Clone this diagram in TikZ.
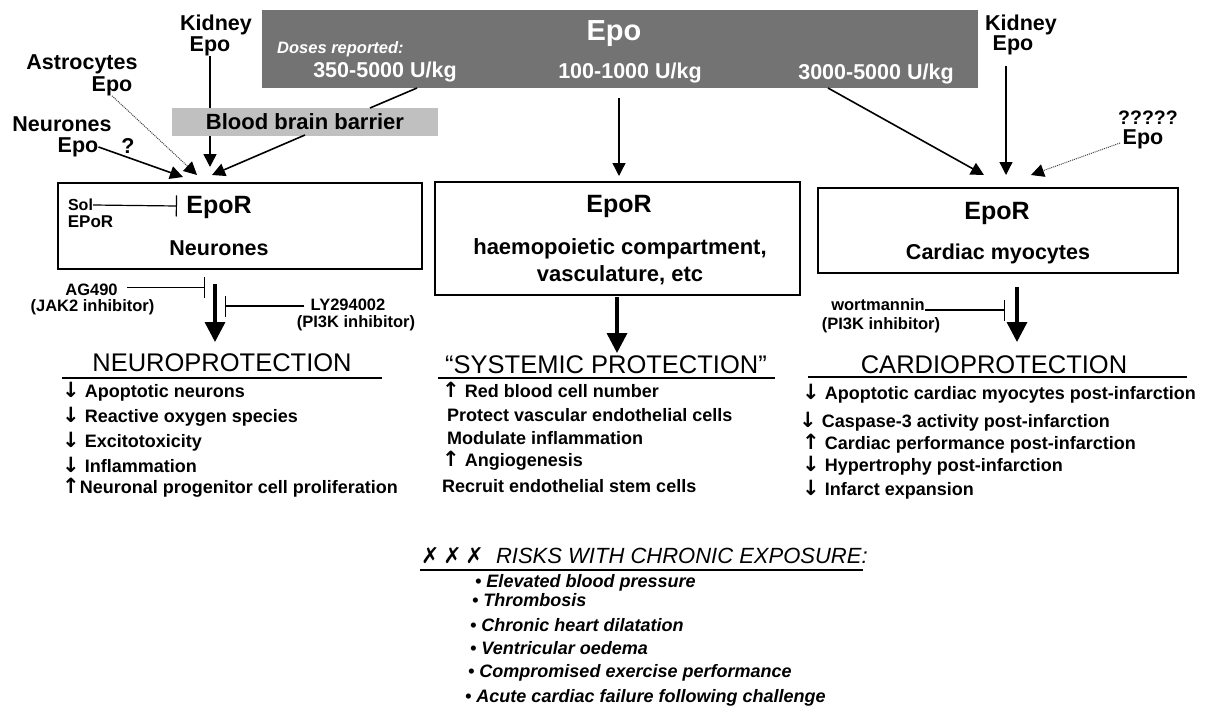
\documentclass[tikz,border=0pt]{standalone}
\usepackage{fontspec}
\setmainfont{Liberation Sans}
\newfontfamily\symfont{DejaVu Sans}
\usetikzlibrary{arrows.meta}

\definecolor{epogrey}{RGB}{115,115,115}
\definecolor{bbbgrey}{RGB}{192,192,192}
\newcommand{\fsz}[1]{\fontsize{#1}{#1}\selectfont}
\newcommand{\arrdn}{{\symfont\bfseries\fsz{21}↓}}
\newcommand{\arrup}{{\symfont\bfseries\fsz{21}↑}}
\newcommand{\cross}{{\symfont ✗}}

\tikzset{
  lbl/.style={font=\bfseries\fsz{21.5}, inner sep=0pt},
  small/.style={font=\bfseries\fsz{16.5}, inner sep=0pt},
  rbox/.style={draw, line width=1.4pt, inner sep=0pt},
  arr/.style={-{Triangle[length=13pt,width=13pt]}, line width=1.6pt},
  dotarr/.style={-{Triangle[length=13pt,width=13pt,color=black]}, line width=1pt, densely dotted, draw=black!75},
  bigarr/.style={-{Triangle[length=20pt,width=20pt]}, line width=3.5pt},
  inh/.style={-{Bar[width=21pt]}, line width=1.2pt},
  item/.style={font=\bfseries\fsz{18}, inner sep=0pt, anchor=west, text height=13pt, text depth=4pt},
  risk/.style={item, font=\bfseries\itshape\fsz{18}},
  head/.style={font=\fsz{25.5}, inner sep=0pt},
  uline/.style={line width=1.4pt}
}

\begin{document}
\begin{tikzpicture}[x=1pt,y=-1pt]
\useasboundingbox (0,0) rectangle (1205,707);

% top Epo box
\node[fill=epogrey, minimum width=716pt, minimum height=78pt, inner sep=0pt] (epobox) at (620,49) {};
\node[font=\bfseries\fsz{29}, text=white, inner sep=0pt] (epo) at (614,34) {Epo};
\node[font=\bfseries\itshape\fsz{16.5}, text=white, inner sep=0pt, anchor=west] (doses) at (277,49) {Doses reported:};
\node[lbl, text=white] (d350) at (385,72) {350-5000 U/kg};
\node[lbl, text=white] (d100) at (630,73) {100-1000 U/kg};
\node[lbl, text=white] (d3000) at (876,74) {3000-5000 U/kg};

% sources of Epo, brain side
\node[lbl] (kidL) at (216,25) {Kidney};
\node[lbl] (kidLepo) at (210,46) {Epo};
\node[lbl] (astro) at (82,64) {Astrocytes};
\node[lbl] (astroepo) at (112,86) {Epo};
\node[lbl] (neur) at (62,124) {Neurones};
\node[lbl] (neurepo) at (78,147) {Epo};
\node[lbl] (qm) at (128,146) {?};

\coordinate (tipA) at (183,177);
\coordinate (tipB) at (197,175);
\coordinate (tipC) at (210,167);
\coordinate (tipD) at (212,175);
\coordinate (d350foot) at (417,88);
\coordinate (bbbtop) at (370,108);
\coordinate (bbbfoot) at (305,135);

\draw[arr] (kidLepo) -- (tipC);
\node[fill=bbbgrey, minimum width=266pt, minimum height=28pt, inner sep=0pt, font=\bfseries\fsz{22}] (bbb) at (305,121.5) {Blood brain barrier};
\draw[line width=1.6pt] (d350foot) -- (bbbtop);
\draw[arr] (bbbfoot) -- (tipD);
\draw[arr] (neurepo.east) -- (tipA);
\draw[dotarr] (astroepo.south) -- (tipB);

% sources of Epo, heart side
\node[lbl] (kidR) at (1021,25) {Kidney};
\node[lbl] (kidRepo) at (1013,45) {Epo};
\node[font=\bfseries\fsz{19.5}, inner sep=0pt] (qq) at (1148,118) {?????};
\node[lbl] (qqepo) at (1143,139) {Epo};

\coordinate (d3000foot) at (828,88);
\coordinate (kidRtop) at (1006,66);
\coordinate (qqfoot) at (1120,143);
\coordinate (tipE) at (984,175);
\coordinate (tipF) at (1006,175);
\coordinate (tipG) at (1031,175);
\draw[arr] (d3000foot) -- (tipE);
\draw[arr, line width=1.3pt] (kidRtop) -- (tipF);
\draw[dotarr] (qqfoot) -- (tipG);

% middle arrow
\coordinate (d100foot) at (619,98);
\coordinate (tipM) at (619,176);
\draw[arr, line width=1.3pt] (d100foot) -- (tipM);

% receptor boxes
\node[rbox, minimum width=364pt, minimum height=86pt] (neurbox) at (240,226) {};
\node[font=\bfseries\fsz{25}, inner sep=0pt] (eporN) at (219,207) {EpoR};
\node[lbl] (neurones) at (219,248) {Neurones};
\node[font=\bfseries\fsz{16}, inner sep=0pt] (sol) at (80.5,205) {Sol};
\node[font=\bfseries\fsz{17}, inner sep=0pt] (soleporr) at (90.5,222) {EPoR};
\coordinate (solbar) at (177,206);
\draw[inh] (sol.east) -- (solbar);

\node[rbox, minimum width=365pt, minimum height=113pt] (midbox) at (617.5,238.5) {};
\node[font=\bfseries\fsz{25}, inner sep=0pt] (eporM) at (619,206) {EpoR};
\node[font=\bfseries\fsz{22}, inner sep=0pt, align=center] (haemo) at (620,262) {haemopoietic compartment,\\[5pt]vasculature, etc};

\node[rbox, minimum width=360pt, minimum height=85pt] (cardbox) at (998,230.5) {};
\node[font=\bfseries\fsz{25}, inner sep=0pt] (eporC) at (997,213) {EpoR};
\node[lbl] (myo) at (998,254) {Cardiac myocytes};

% inhibitors and outputs, brain
\node[small] (ag) at (91.5,290) {AG490};
\node[small] (jak) at (92.5,307) {(JAK2 inhibitor)};
\node[small] (ly) at (348,305) {LY294002};
\node[small] (pi3kN) at (356,323) {(PI3K inhibitor)};
\coordinate (agbar) at (205,287.5);
\coordinate (lybar) at (225,306);
\draw[inh] ([xshift=9pt]ag.east |- agbar) -- (agbar);
\draw[inh] ([xshift=-6pt]ly.west |- lybar) -- (lybar);
\coordinate (neurtop) at (215,284);
\coordinate (neurtip) at (215,342);
\draw[bigarr] (neurtop) -- (neurtip);

\node[head] (neuroprot) at (222,363) {NEUROPROTECTION};
\draw[uline] (62,378) -- (382,378);
\node[item] (n1) at (62,393) {\arrdn{} Apoptotic neurons};
\node[item] (n2) at (62,418) {\arrdn{} Reactive oxygen species};
\node[item] (n3) at (62,443) {\arrdn{} Excitotoxicity};
\node[item] (n4) at (62,468) {\arrdn{} Inflammation};
\node[item] (n5) at (62,489) {\arrup{}Neuronal progenitor cell proliferation};

% outputs, systemic
\coordinate (midtop) at (617,297);
\coordinate (midtip) at (617,353);
\draw[bigarr] (midtop) -- (midtip);
\node[head] (sysprot) at (606,365) {“SYSTEMIC PROTECTION”};
\draw[uline] (438,378) -- (775,378);
\node[item] (s1) at (442,393) {\arrup{} Red blood cell number};
\node[item] (s2) at (447,417) {Protect vascular endothelial cells};
\node[item] (s3) at (447,440) {Modulate inflammation};
\node[item] (s4) at (442,462) {\arrup{} Angiogenesis};
\node[item] (s5) at (442,488) {Recruit endothelial stem cells};

% inhibitors and outputs, heart
\node[small] (wort) at (878,305) {wortmannin};
\node[small] (pi3kC) at (881,325) {(PI3K inhibitor)};
\coordinate (wortbar) at (1005,310);
\draw[inh] (wort.east |- wortbar) -- (wortbar);
\coordinate (cardtop) at (1017,287);
\coordinate (cardtip) at (1017,342);
\draw[bigarr] (cardtop) -- (cardtip);

\node[head] (cardprot) at (994,365) {CARDIOPROTECTION};
\draw[uline] (808,377) -- (1187,377);
\node[item] (c1) at (802,395) {\arrdn{} Apoptotic cardiac myocytes post-infarction};
\node[item] (c2) at (799,423) {\arrdn{} Caspase-3 activity post-infarction};
\node[item] (c3) at (802,445) {\arrup{} Cardiac performance post-infarction};
\node[item] (c4) at (802,467) {\arrdn{} Hypertrophy post-infarction};
\node[item] (c5) at (802,491) {\arrdn{} Infarct expansion};

% risks
\node[font=\itshape\fsz{22}, inner sep=0pt, anchor=west] (risks) at (421,556) {\cross\,\cross\,\cross\ \ RISKS WITH CHRONIC EXPOSURE:};
\draw[uline] (420,570) -- (863,570);
\node[risk] (r1) at (475,583) {• Elevated blood pressure};
\node[risk] (r2) at (472,602) {• Thrombosis};
\node[risk] (r3) at (470,627) {• Chronic heart dilatation};
\node[risk] (r4) at (470,650) {• Ventricular oedema};
\node[risk] (r5) at (468,673) {• Compromised exercise performance};
\node[risk] (r6) at (465,698) {• Acute cardiac failure following challenge};
\end{tikzpicture}
\end{document}
